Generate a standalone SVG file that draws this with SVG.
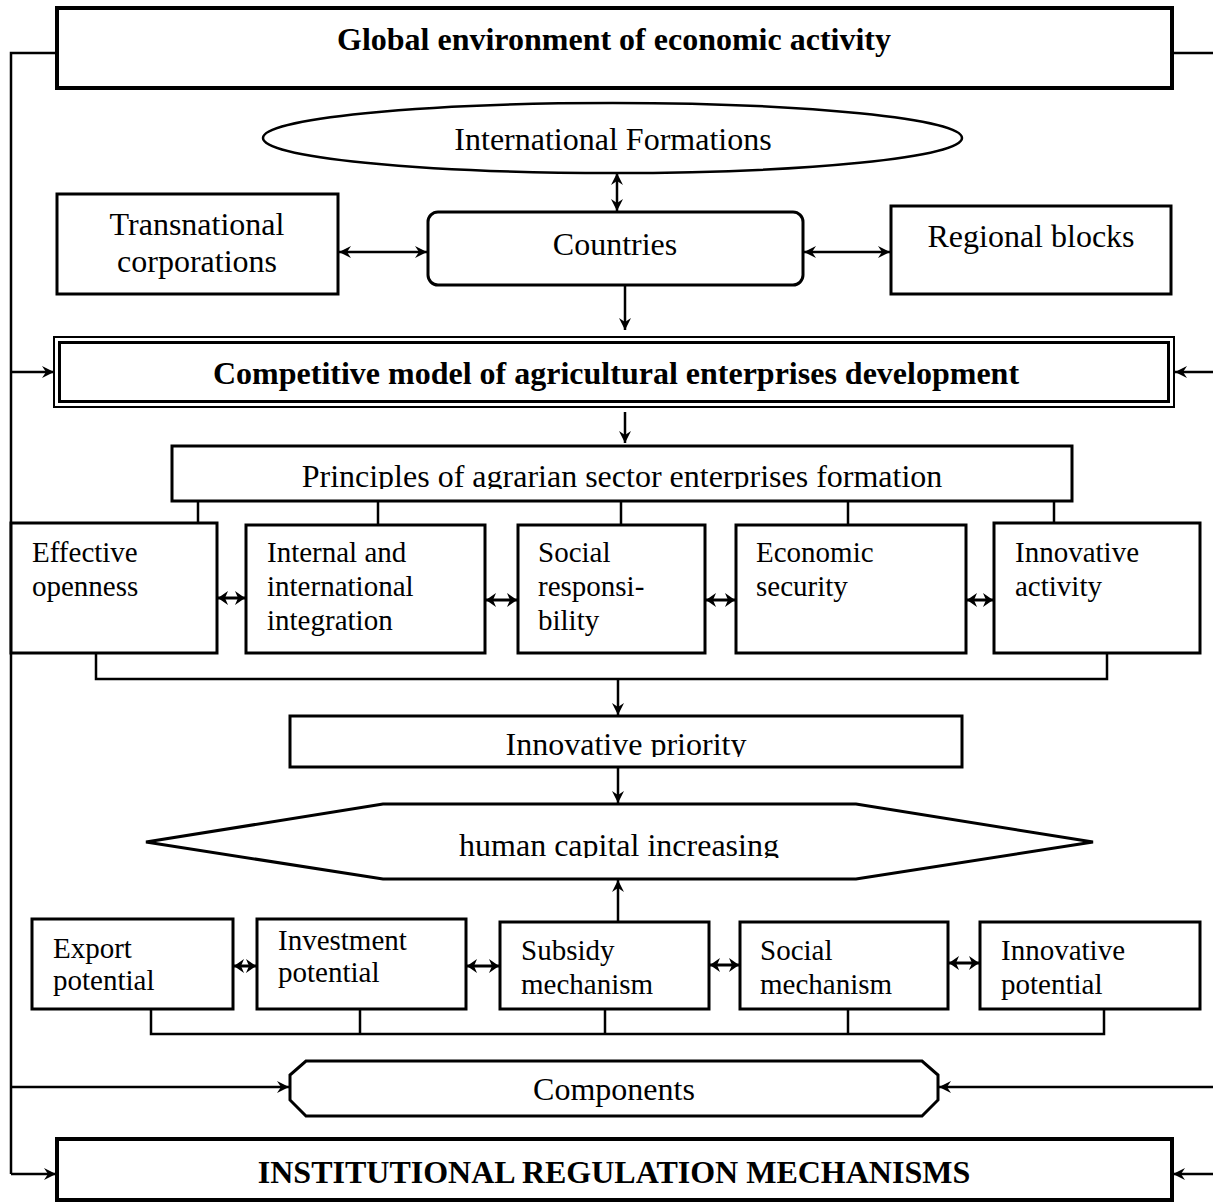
<svg xmlns="http://www.w3.org/2000/svg" width="1213" height="1202" viewBox="0 0 1213 1202">
<style>
text{font-family:"Liberation Serif","Times New Roman",serif;fill:#000}
.t32{font-size:32px}
.t29{font-size:29px}
.b{font-weight:bold}
.box{fill:#fff;stroke:#000;stroke-width:3}
.thick{fill:#fff;stroke:#000;stroke-width:4}
.ln{fill:none;stroke:#000;stroke-width:2.5}
.arr{fill:none;stroke:#000;stroke-width:2.5;marker-end:url(#ah)}
.arr2{fill:none;stroke:#000;stroke-width:2.5;marker-start:url(#ahs);marker-end:url(#ah)}
.dbl{fill:none;stroke:#000;stroke-width:3;marker-start:url(#bhs);marker-end:url(#bh)}
</style>
<defs>
<marker id="ah" markerUnits="userSpaceOnUse" markerWidth="14" markerHeight="14" refX="13" refY="7" orient="auto">
<path d="M1,1 L13,7 L1,13 L5,7 z" fill="#000"/>
</marker>
<marker id="ahs" markerUnits="userSpaceOnUse" markerWidth="14" markerHeight="14" refX="1" refY="7" orient="auto">
<path d="M13,1 L1,7 L13,13 L9,7 z" fill="#000"/>
</marker>
<marker id="bh" markerUnits="userSpaceOnUse" markerWidth="12" markerHeight="16" refX="11" refY="8" orient="auto">
<path d="M1,1 L11,8 L1,15 L4,8 z" fill="#000"/>
</marker>
<marker id="bhs" markerUnits="userSpaceOnUse" markerWidth="12" markerHeight="16" refX="1" refY="8" orient="auto">
<path d="M11,1 L1,8 L11,15 L8,8 z" fill="#000"/>
</marker>
<clipPath id="cP"><rect x="170" y="446" width="905" height="43"/></clipPath>
<clipPath id="cI"><rect x="290" y="716" width="672" height="41"/></clipPath>
<clipPath id="cH"><rect x="145" y="804" width="950" height="54"/></clipPath>
</defs>

<g id="connectors">
<polyline class="ln" points="57,53 11,53 11,1174"/>
<line class="arr" x1="11" y1="1174" x2="56" y2="1174"/>
<line class="arr" x1="11" y1="372" x2="54" y2="372"/>
<line class="arr" x1="11" y1="1087" x2="289" y2="1087"/>
<line class="ln" x1="1172" y1="53" x2="1213" y2="53"/>
<line class="arr" x1="1213" y1="372" x2="1175" y2="372"/>
<line class="arr" x1="1213" y1="1087" x2="939" y2="1087"/>
<line class="arr" x1="1213" y1="1174" x2="1173" y2="1174"/>
<line class="arr2" x1="617" y1="173" x2="617" y2="211"/>
<line class="arr2" x1="339" y1="252" x2="427" y2="252"/>
<line class="arr2" x1="804" y1="252" x2="890" y2="252"/>
<line class="arr" x1="625" y1="285" x2="625" y2="330"/>
<line class="arr" x1="625" y1="412" x2="625" y2="443"/>
<line class="ln" x1="198" y1="501" x2="198" y2="523"/>
<line class="ln" x1="378" y1="501" x2="378" y2="525"/>
<line class="ln" x1="621" y1="501" x2="621" y2="525"/>
<line class="ln" x1="848" y1="501" x2="848" y2="525"/>
<line class="ln" x1="1054" y1="501" x2="1054" y2="523"/>
<line class="dbl" x1="218" y1="598" x2="245" y2="598"/>
<line class="dbl" x1="486" y1="600" x2="517" y2="600"/>
<line class="dbl" x1="706" y1="600" x2="735" y2="600"/>
<line class="dbl" x1="967" y1="600" x2="993" y2="600"/>
<polyline class="ln" points="96,653 96,679 1107,679 1107,653"/>
<line class="arr" x1="618" y1="679" x2="618" y2="715"/>
<line class="arr" x1="618" y1="767" x2="618" y2="803"/>
<line class="arr" x1="618" y1="922" x2="618" y2="880"/>
<line class="dbl" x1="234" y1="966" x2="256" y2="966"/>
<line class="dbl" x1="467" y1="966" x2="499" y2="966"/>
<line class="dbl" x1="710" y1="965" x2="739" y2="965"/>
<line class="dbl" x1="949" y1="963" x2="979" y2="963"/>
<polyline class="ln" points="151,1009 151,1034 1104,1034 1104,1009"/>
<line class="ln" x1="360" y1="1009" x2="360" y2="1034"/>
<line class="ln" x1="605" y1="1009" x2="605" y2="1034"/>
<line class="ln" x1="848" y1="1009" x2="848" y2="1034"/>
</g>

<g id="global">
<rect class="thick" x="57" y="8" width="1115" height="80"/>
<text class="t32 b" x="614" y="50" text-anchor="middle">Global environment of economic activity</text>
</g>

<g id="intl">
<ellipse cx="612.5" cy="138" rx="349.5" ry="35" fill="#fff" stroke="#000" stroke-width="2.5"/>
<text class="t32" x="613" y="150" text-anchor="middle">International Formations</text>
</g>

<g id="tnc">
<rect class="box" x="57" y="194" width="281" height="100"/>
<text class="t32" x="197" y="235" text-anchor="middle">Transnational</text>
<text class="t32" x="197" y="272" text-anchor="middle">corporations</text>
</g>

<g id="countries">
<rect class="box" x="428" y="212" width="375" height="73" rx="10" ry="10"/>
<text class="t32" x="615" y="255" text-anchor="middle">Countries</text>
</g>

<g id="regional">
<rect class="box" x="891" y="206" width="280" height="88"/>
<text class="t32" x="1031" y="247" text-anchor="middle">Regional blocks</text>
</g>

<g id="competitive">
<rect x="54" y="337" width="1120" height="70" fill="#fff" stroke="#000" stroke-width="2"/>
<rect x="59.5" y="342.5" width="1109" height="59" fill="none" stroke="#000" stroke-width="3"/>
<text class="t32 b" x="616" y="384" text-anchor="middle">Competitive model of agricultural enterprises development</text>
</g>

<g id="principles">
<rect class="box" x="172" y="446" width="900" height="55"/>
<text class="t32" x="622" y="487" text-anchor="middle" clip-path="url(#cP)">Principles of agrarian sector enterprises formation</text>
</g>

<g id="p1">
<rect class="box" x="11" y="523" width="206" height="130"/>
<text class="t29" x="32" y="562">Effective</text>
<text class="t29" x="32" y="596">openness</text>
</g>
<g id="p2">
<rect class="box" x="246" y="525" width="239" height="128"/>
<text class="t29" x="267" y="562">Internal and</text>
<text class="t29" x="267" y="596">international</text>
<text class="t29" x="267" y="630">integration</text>
</g>
<g id="p3">
<rect class="box" x="518" y="525" width="187" height="128"/>
<text class="t29" x="538" y="562">Social</text>
<text class="t29" x="538" y="596">responsi-</text>
<text class="t29" x="538" y="630">bility</text>
</g>
<g id="p4">
<rect class="box" x="736" y="525" width="230" height="128"/>
<text class="t29" x="756" y="562">Economic</text>
<text class="t29" x="756" y="596">security</text>
</g>
<g id="p5">
<rect class="box" x="994" y="523" width="206" height="130"/>
<text class="t29" x="1015" y="562">Innovative</text>
<text class="t29" x="1015" y="596">activity</text>
</g>

<g id="priority">
<rect class="box" x="290" y="716" width="672" height="51"/>
<text class="t32" x="626" y="755" text-anchor="middle" clip-path="url(#cI)">Innovative priority</text>
</g>

<g id="human">
<polygon class="box" stroke-width="2.5" points="146,842 383,804 856,804 1093,842 856,879 383,879"/>
<text class="t32" x="619" y="856" text-anchor="middle" clip-path="url(#cH)">human capital increasing</text>
</g>

<g id="c1">
<rect class="box" x="32" y="919" width="201" height="90"/>
<text class="t29" x="53" y="958">Export</text>
<text class="t29" x="53" y="990">potential</text>
</g>
<g id="c2">
<rect class="box" x="257" y="919" width="209" height="90"/>
<text class="t29" x="278" y="950">Investment</text>
<text class="t29" x="278" y="982">potential</text>
</g>
<g id="c3">
<rect class="box" x="500" y="922" width="209" height="87"/>
<text class="t29" x="521" y="960">Subsidy</text>
<text class="t29" x="521" y="994">mechanism</text>
</g>
<g id="c4">
<rect class="box" x="740" y="922" width="208" height="87"/>
<text class="t29" x="760" y="960">Social</text>
<text class="t29" x="760" y="994">mechanism</text>
</g>
<g id="c5">
<rect class="box" x="980" y="922" width="220" height="87"/>
<text class="t29" x="1001" y="960">Innovative</text>
<text class="t29" x="1001" y="994">potential</text>
</g>

<g id="components">
<polygon class="box" points="306,1061 922,1061 938,1075 938,1100 922,1116 306,1116 290,1100 290,1075"/>
<text class="t32" x="614" y="1100" text-anchor="middle">Components</text>
</g>

<g id="institutional">
<rect class="thick" x="57" y="1139" width="1115" height="61"/>
<text class="t32 b" x="614" y="1183" text-anchor="middle">INSTITUTIONAL REGULATION MECHANISMS</text>
</g>
</svg>
